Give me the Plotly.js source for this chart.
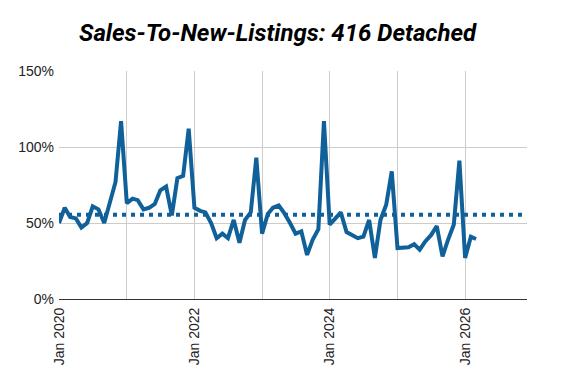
<!DOCTYPE html>
<html>
<head>
<meta charset="utf-8">
<script src="https://cdn.plot.ly/plotly-3.0.1.min.js"></script>
<style>
html,body{margin:0;padding:0;background:#fff;}
#chart{width:576px;height:391px;}
</style>
</head>
<body>
<div id="chart"></div>
<script>
// Monthly sales-to-new-listings ratio (%), Jan 2020 .. Mar 2026
const months = [];
const startYear = 2020;
const ratio2020 = [50, 60, 54, 53, 47, 50, 61, 59, 50, 63, 77, 117];
const ratio2021 = [63, 66, 65, 59, 60, 62.5, 71.5, 74, 55, 79.5, 81, 112];
const ratio2022 = [60, 58, 57, 50, 40, 43, 40, 52, 37, 52, 57, 93];
const ratio2023 = [43, 56, 60, 61.5, 56.5, 50, 43, 44.5, 29, 39, 46, 117];
const ratio2024 = [49, 53, 57, 44, 42, 40, 41, 52, 27, 52, 62, 84];
const ratio2025 = [33.5, 34, 34, 36, 32.5, 38, 42, 48, 28, 39, 49, 91];
const ratio2026 = [27, 41, 39.5];
const averageRatio = 55.5;
const yTickVals = [0, 50, 100, 150];
const yTickText = ['0%', '50%', '100%', '150%'];
const xTickVals = ['2020-01-01', '2022-01-01', '2024-01-01', '2026-01-01'];
const xTickText = ['Jan 2020', 'Jan 2022', 'Jan 2024', 'Jan 2026'];
const xRange = ['2020-01-01', '2026-12-01'];

const ratios = [].concat(ratio2020, ratio2021, ratio2022, ratio2023, ratio2024, ratio2025, ratio2026);
for (let i = 0; i < ratios.length; i++) {
  const y = startYear + Math.floor(i / 12);
  const m = (i % 12) + 1;
  months.push(y + '-' + String(m).padStart(2, '0') + '-01');
}

const color = '#10609a';

const traces = [
  {
    x: xRange,
    y: [averageRatio, averageRatio],
    type: 'scatter',
    mode: 'lines',
    line: {color: color, width: 4, dash: '4px,5px'},
    hoverinfo: 'skip',
    showlegend: false
  },
  {
    x: months,
    y: ratios,
    type: 'scatter',
    mode: 'lines',
    line: {color: color, width: 4},
    showlegend: false
  }
];

const layout = {
  width: 576,
  height: 391,
  margin: {l: 59, r: 49, t: 71, b: 92},
  paper_bgcolor: '#ffffff',
  plot_bgcolor: '#ffffff',
  title: {
    text: '<b><i>Sales-To-New-Listings: 416 Detached</i></b>',
    font: {family: 'Roboto, sans-serif', size: 24, color: '#000000'},
    x: 0.482,
    xanchor: 'center',
    y: 0.916,
    yanchor: 'middle'
  },
  xaxis: {
    type: 'date',
    range: xRange,
    tickmode: 'array',
    tickvals: xTickVals,
    ticktext: xTickText,
    tickangle: -90,
    showgrid: true,
    gridcolor: '#cccccc',
    gridwidth: 1,
    minor: {dtick: 'M12', tick0: '2020-01-01', showgrid: true, gridcolor: '#cccccc', gridwidth: 1},
    showline: true,
    linecolor: '#333333',
    linewidth: 1,
    zeroline: false,
    ticks: '',
    ticklabelstandoff: 2,
    tickfont: {family: 'Liberation Sans, Arial, sans-serif', size: 14, color: '#222222'}
  },
  yaxis: {
    range: [0, 150],
    tickmode: 'array',
    tickvals: yTickVals,
    ticktext: yTickText,
    showgrid: true,
    gridcolor: '#cccccc',
    gridwidth: 1,
    zeroline: false,
    showline: false,
    ticks: '',
    ticklabelstandoff: 4,
    tickfont: {family: 'Liberation Sans, Arial, sans-serif', size: 14, color: '#222222'}
  },
  showlegend: false
};

Plotly.newPlot('chart', traces, layout, {displayModeBar: false, staticPlot: true});
</script>
</body>
</html>
